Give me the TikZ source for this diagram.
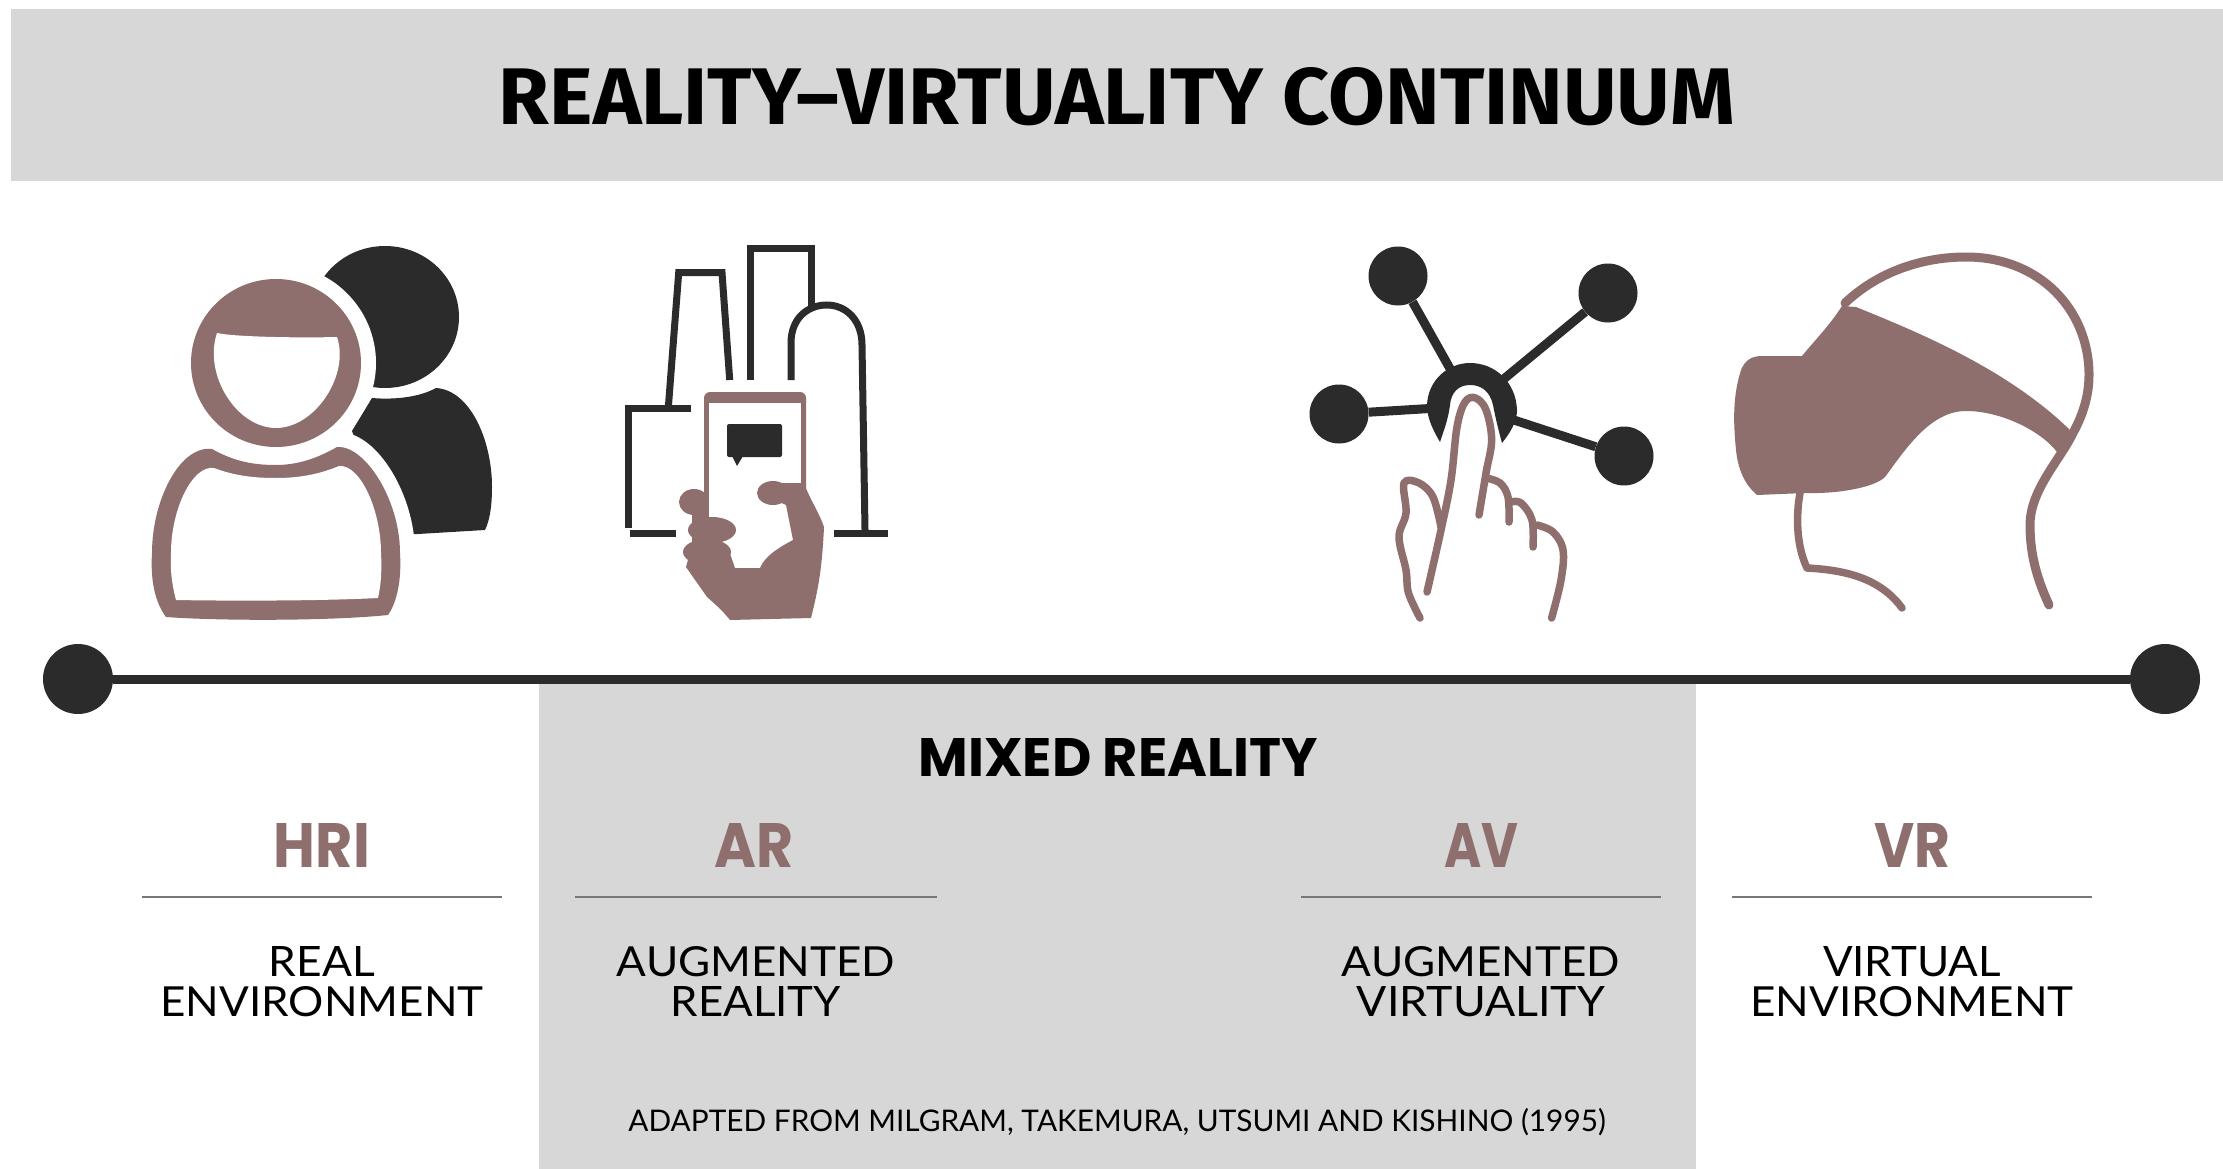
\documentclass[tikz,border=0pt]{standalone}
\usepackage{graphicx}
\usepackage{fontspec}
\setmainfont{Lato}
\newfontfamily\titlefont{Fira Sans}
\newfontfamily\heavyfont{Poppins}
\definecolor{band}{HTML}{D7D7D7}
\definecolor{mauve}{HTML}{8F6E6E}
\definecolor{ink}{HTML}{2B2B2B}
\definecolor{rulegrey}{HTML}{777777}
\newcommand{\fitbox}[3]{\resizebox{#1pt}{#2pt}{#3}}
\tikzset{
  lbl/.style={inner sep=0pt,outer sep=0pt,anchor=base,text=black},
  tag/.style={lbl,text=mauve},
  bigdot/.style={circle,fill=ink,inner sep=0pt,minimum size=70pt},
  netdot/.style={circle,fill=ink,inner sep=0pt,minimum size=59pt},
  spoke/.style={draw=ink,line width=9pt},
  city/.style={draw=ink,line width=7pt,line join=miter},
  handline/.style={draw=mauve,line width=7.5pt,line cap=round,line join=round},
  headline/.style={draw=mauve,line width=9pt,line cap=round,line join=round},
  thinrule/.style={draw=rulegrey,line width=2.5pt}
}
\newcommand{\bodyouter}{(212,449) .. controls (235,462) and (255,465) .. (276,465)
  .. controls (298,465) and (318,458) .. (337,447)
  .. controls (365,445) and (400,500) .. (400,553)
  .. controls (402,585) and (395,605) .. (388,615)
  .. controls (330,621) and (220,621) .. (166,617)
  .. controls (157,605) and (150,585) .. (152,553)
  .. controls (152,500) and (180,445) .. (212,449) -- cycle}
\begin{document}
\begin{tikzpicture}[x=1pt,y=-1pt]
\useasboundingbox (0,0) rectangle (2223,1169);
\fill[white] (0,0) rectangle (2223,1169);
% bands
\fill[band] (11,9) rectangle (2223,181);
\fill[band] (539,680) rectangle (1696,1169);
% title
\node[lbl] (title) at (1117,125) {\fitbox{1236}{57}{\titlefont\bfseries REALITY–VIRTUALITY CONTINUUM}};
% axis
\node[bigdot] (ldot) at (78,679) {};
\node[bigdot] (rdot) at (2165,679) {};
\draw[draw=ink,line width=9pt] (ldot) -- (rdot);
% --- person ---
\fill[ink] (352,431) -- (372,398) .. controls (395,400) and (420,397) .. (436,388)
  .. controls (470,390) and (492,440) .. (492,487)
  .. controls (492,505) and (490,520) .. (485,530)
  -- (418,534) -- (390,534) -- cycle;
\fill[ink] (385,317) ellipse (74 and 71);
% halos
\draw[white,line width=30pt] (276,363) ellipse (85 and 84);
\draw[white,line width=30pt] \bodyouter;
% head
\fill[mauve] (276,363) ellipse (85 and 84);
\fill[white] (217,333) .. controls (235,337) and (300,338) .. (337,337)
  .. controls (350,375) and (315,428) .. (276,428)
  .. controls (237,428) and (203,375) .. (217,333) -- cycle;
% body
\fill[mauve] \bodyouter;
\fill[white] (214,468) .. controls (235,476) and (255,478) .. (276,478)
  .. controls (300,478) and (320,474) .. (339,466)
  .. controls (360,464) and (381,510) .. (381,553)
  .. controls (382,570) and (381,585) .. (378,598)
  .. controls (320,601) and (230,601) .. (176,600)
  .. controls (172,585) and (170,570) .. (171,553)
  .. controls (171,510) and (192,465) .. (214,468) -- cycle;
% --- city ---
\draw[city] (691,408) -- (628,408) -- (628,528);
\draw[city] (630,533) -- (676,533);
\draw[city] (668.5,405) -- (678.7,272.7) -- (722,272.7) -- (729.7,380);
\draw[city] (750,380) -- (750,248) -- (811,248) -- (811,307);
\draw[city] (791,380) -- (791,343) .. controls (791,318) and (808,305) .. (826.7,305)
  .. controls (846,305) and (862,320) .. (862,345) -- (865,530);
\draw[city] (834,533) -- (888,533);
% phone
\fill[mauve,rounded corners=6pt] (704,392) rectangle (806,500);
\fill[mauve] (704,440) rectangle (709,515);
\fill[white] (709,403) rectangle (801,500);
\fill[white] (709,500) rectangle (801,525);
% bubble
\fill[ink,rounded corners=2pt] (727,424) rectangle (782,457);
\fill[ink] (732,456) -- (737,466) -- (743,456) -- cycle;
% hand
\fill[mauve] (804,483) .. controls (810,500) and (818,510) .. (824,527)
  .. controls (822,570) and (818,590) .. (811,618)
  -- (730,620) .. controls (722,610) and (716,605) .. (707,597)
  -- (686,567) -- (692,545) -- (727,545) -- (735,568) -- (760,568)
  .. controls (765,556) and (778,548) .. (793,540)
  -- (786,505) -- (775,500) -- (780,483) -- cycle;
\fill[mauve] (692,505) -- (709,505) -- (709,545) -- (692,545) -- cycle;
\fill[mauve] (694,502) ellipse (15 and 13);
\fill[mauve] (712,530) ellipse (24 and 13);
\fill[mauve] (707,552) ellipse (24 and 13);
\fill[mauve] (773,493) ellipse (16 and 12);
% --- network ---
\node[netdot] (ntl) at (1398,276) {};
\node[netdot] (ntr) at (1608,293) {};
\node[netdot] (nl) at (1339,414) {};
\node[netdot] (nr) at (1624,456) {};
\coordinate (hub) at (1471,406);
\draw[spoke] (ntl) -- (hub);
\draw[spoke] (ntr) -- (hub);
\draw[spoke] (nl) -- (hub);
\draw[spoke] (nr) -- (hub);
\fill[white] (1471,402) ellipse (36 and 34);
\fill[ink] (1440,442) .. controls (1430,425) and (1427,415) .. (1427,405)
  .. controls (1428,380) and (1448,363) .. (1470,363)
  .. controls (1495,363) and (1516,382) .. (1517,410)
  .. controls (1517,422) and (1510,433) .. (1502,443)
  .. controls (1497,425) and (1495,415) .. (1493,405)
  .. controls (1490,392) and (1482,385) .. (1470,385)
  .. controls (1458,385) and (1451,393) .. (1450,405)
  .. controls (1448,420) and (1444,430) .. (1440,442) -- cycle;
\draw[handline] plot[smooth,tension=0.6] coordinates {(1427,592)(1441,530)(1451,480)(1457,427)(1465,402)(1475.5,398)(1486,410)(1491.6,440)(1486,473)(1479,515)};
\draw[handline] plot[smooth,tension=0.6] coordinates {(1441,527)(1433,497)(1419,483)(1404,483)(1406,513)(1399,537)(1406,570)(1408.5,593)(1420,618)};
\draw[handline] plot[smooth,tension=0.6] coordinates {(1486,478)(1500,483)(1508,497)(1509,522)};
\draw[handline] plot[smooth,tension=0.6] coordinates {(1511,502)(1521,503)(1532,520)(1533,547)};
\draw[handline] plot[smooth,tension=0.6] coordinates {(1537,525)(1553,532)(1563,550)(1561,580)(1551.6,618)};
% --- headset ---
\draw[headline] (1845,303) .. controls (1880,270) and (1925,257) .. (1966,257)
  .. controls (2040,257) and (2089,310) .. (2089,375)
  .. controls (2089,400) and (2080,420) .. (2073,433)
  .. controls (2060,460) and (2030,490) .. (2030,525)
  .. controls (2030,560) and (2040,585) .. (2049,605);
\fill[mauve] (1762,356) -- (1802,356) .. controls (1815,340) and (1830,325) .. (1842,306)
  -- (1856,307) .. controls (1920,333) and (2010,370) .. (2073,433)
  -- (2057,452) .. controls (2040,430) and (2000,411) .. (1966,411)
  .. controls (1930,411) and (1905,450) .. (1885,477)
  .. controls (1875,487) and (1840,494) .. (1805,493)
  -- (1757,495) .. controls (1745,485) and (1738,470) .. (1736,450)
  .. controls (1733,420) and (1733,395) .. (1741,370)
  .. controls (1745,360) and (1752,356) .. (1762,356) -- cycle;
\draw[handline] (1800,493) .. controls (1796,515) and (1796,545) .. (1807,568)
  .. controls (1845,570) and (1880,578) .. (1902,608);
% --- labels ---
\node[lbl] (mr) at (1118,776) {\fitbox{399}{38}{\heavyfont\bfseries MIXED REALITY}};
\node[tag] (hri) at (322,867) {\fitbox{96}{44}{\heavyfont\bfseries HRI}};
\node[tag] (ar) at (754,867) {\fitbox{79}{44}{\heavyfont\bfseries AR}};
\node[tag] (av) at (1481,867) {\fitbox{74}{44}{\heavyfont\bfseries AV}};
\node[tag] (vr) at (1912,867) {\fitbox{76}{44}{\heavyfont\bfseries VR}};
\draw[thinrule] (142,897) -- (502,897);
\draw[thinrule] (575,897) -- (937,897);
\draw[thinrule] (1301,897) -- (1661,897);
\draw[thinrule] (1732,897) -- (2092,897);
\node[lbl] (l1a) at (322,976) {\fitbox{106}{30}{REAL}};
\node[lbl] (l1b) at (322,1016) {\fitbox{323}{30}{ENVIRONMENT}};
\node[lbl] (l2a) at (756,976) {\fitbox{278}{30}{AUGMENTED}};
\node[lbl] (l2b) at (756,1016) {\fitbox{170}{30}{REALITY}};
\node[lbl] (l3a) at (1481,976) {\fitbox{278}{30}{AUGMENTED}};
\node[lbl] (l3b) at (1481,1016) {\fitbox{248}{30}{VIRTUALITY}};
\node[lbl] (l4a) at (1912,976) {\fitbox{178}{30}{VIRTUAL}};
\node[lbl] (l4b) at (1912,1016) {\fitbox{323}{30}{ENVIRONMENT}};
\node[lbl] (src) at (1117,1131) {\resizebox{977pt}{!}{ADAPTED FROM MILGRAM, TAKEMURA, UTSUMI AND KISHINO (1995)}};
\end{tikzpicture}
\end{document}
